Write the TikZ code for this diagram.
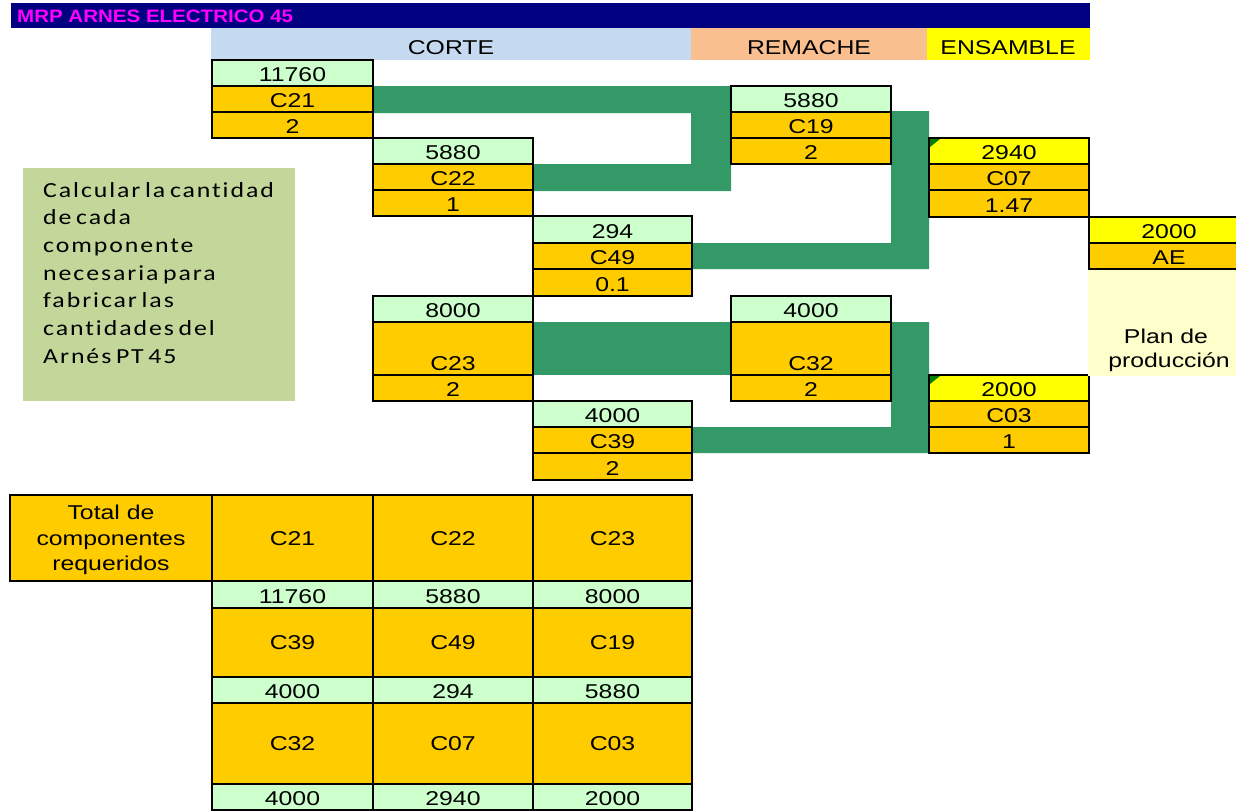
\documentclass[tikz,border=0pt]{standalone}
\usepackage{fontspec}
\setmainfont{Liberation Sans}[FakeStretch=1.24]
\newfontfamily\titlefont{Liberation Sans}[FakeStretch=1.14]
\newfontfamily\notefont{Carlito}[FakeStretch=1.2,LetterSpace=9,WordSpace=0.6,Ligatures={NoCommon}]
\definecolor{navy}{HTML}{000080}
\definecolor{mag}{HTML}{FF00FF}
\definecolor{lblue}{HTML}{C5D9F1}
\definecolor{peach}{HTML}{FABF8F}
\definecolor{yel}{HTML}{FFFF00}
\definecolor{lgreen}{HTML}{CCFFCC}
\definecolor{orng}{HTML}{FFCC00}
\definecolor{sea}{HTML}{339966}
\definecolor{notebg}{HTML}{C4D79B}
\definecolor{planbg}{HTML}{FFFFCC}
\definecolor{tri}{HTML}{008000}
\tikzset{
  cellline/.style={draw=black,line width=2.1pt},
  txt/.style={anchor=base,inner sep=0pt,font=\fontsize{20}{23}\selectfont},
  notetxt/.style={anchor=base west,inner sep=0pt,font=\notefont\fontsize{21.5}{24}\selectfont},
  link/.style={fill=sea,draw=none},
}
% name, x1, y1, x2, y2, fill, text  (text near bottom)
\newcommand\cel[7]{%
  \draw[cellline,fill=#6] (#2,#3) rectangle (#4,#5);
  \node[txt] (#1) at ({(#2+#4)/2},{#5-5}) {#7};}
% centred text
\newcommand\celc[7]{%
  \draw[cellline,fill=#6] (#2,#3) rectangle (#4,#5);
  \node[txt] (#1) at ({(#2+#4)/2},{(#3+#5)/2+7}) {#7};}
\begin{document}
\begin{tikzpicture}[x=1pt,y=-1pt]
\useasboundingbox (0,0) rectangle (1236,811);
\clip (0,0) rectangle (1236,811);
\fill[white] (0,0) rectangle (1236,811);
% title bar
\fill[navy] (11,3) rectangle (1090,28);
\node[anchor=base west,inner sep=0pt,text=mag,font=\titlefont\bfseries\fontsize{18}{20}\selectfont] (title) at (17,23) {MRP ARNES ELECTRICO 45};
% header
\fill[lblue] (211,28) rectangle (691,60);
\fill[peach] (691,28) rectangle (927,60);
\fill[yel] (927,28) rectangle (1090,60);
\node[txt] (corte) at (451,54) {CORTE};
\node[txt] (remache) at (809,54) {REMACHE};
\node[txt] (ensamble) at (1008,54) {ENSAMBLE};
% connectors
\fill[link] (373,86) -- (731,86) -- (731,191) -- (533,191) -- (533,164) -- (691,164) -- (691,113) -- (373,113) -- cycle;
\fill[link] (891,111) -- (929,111) -- (929,269) -- (692,269) -- (692,243) -- (891,243) -- cycle;
\fill[link] (533,322) -- (731,322) -- (731,375) -- (533,375) -- cycle;
\fill[link] (891,322) -- (929,322) -- (929,453) -- (692,453) -- (692,427) -- (891,427) -- cycle;
% C21
\cel{a1}{212}{60}{373}{86}{lgreen}{11760}
\cel{a2}{212}{86}{373}{112}{orng}{C21}
\cel{a3}{212}{112}{373}{138}{orng}{2}
% C22
\cel{b1}{373}{138}{533}{164}{lgreen}{5880}
\cel{b2}{373}{164}{533}{190}{orng}{C22}
\cel{b3}{373}{190}{533}{216}{orng}{1}
% C49
\cel{c1}{533}{216}{692}{243}{lgreen}{294}
\cel{c2}{533}{243}{692}{269}{orng}{C49}
\cel{c3}{533}{269}{692}{296}{orng}{0.1}
% C23
\cel{d1}{373}{296}{533}{322}{lgreen}{8000}
\cel{d2}{373}{322}{533}{375}{orng}{C23}
\cel{d3}{373}{375}{533}{401}{orng}{2}
% C39
\cel{e1}{533}{401}{692}{427}{lgreen}{4000}
\cel{e2}{533}{427}{692}{453}{orng}{C39}
\cel{e3}{533}{453}{692}{480}{orng}{2}
% C19
\cel{f1}{731}{86}{891}{112}{lgreen}{5880}
\cel{f2}{731}{112}{891}{138}{orng}{C19}
\cel{f3}{731}{138}{891}{164}{orng}{2}
% C32
\cel{g1}{731}{296}{891}{322}{lgreen}{4000}
\cel{g2}{731}{322}{891}{375}{orng}{C32}
\cel{g3}{731}{375}{891}{401}{orng}{2}
% C07
\cel{h1}{929}{138}{1089}{164}{yel}{2940}
\cel{h2}{929}{164}{1089}{190}{orng}{C07}
\cel{h3}{929}{190}{1089}{217}{orng}{1.47}
\fill[tri] (930,139) -- (940,139) -- (930,147) -- cycle;
% AE
\cel{i1}{1089}{217}{1249}{243}{yel}{2000}
\cel{i2}{1089}{243}{1249}{269}{orng}{AE}
% C03
\cel{j1}{929}{375}{1089}{401}{yel}{2000}
\cel{j2}{929}{401}{1089}{427}{orng}{C03}
\cel{j3}{929}{427}{1089}{453}{orng}{1}
\fill[tri] (930,376) -- (940,376) -- (930,384) -- cycle;
% plan de produccion
\fill[planbg] (1088,270) rectangle (1236,376);
\node[txt] (plan1) at (1166,343) {Plan de};
\node[txt] (plan2) at (1169,367) {producción};
% note box
\fill[notebg] (23,168) rectangle (295,401);
\node[notetxt] (n1) at (43,197) {Calcular la cantidad};
\node[notetxt] (n2) at (43,224.7) {de cada};
\node[notetxt] (n3) at (43,252.4) {componente};
\node[notetxt] (n4) at (43,280.1) {necesaria para};
\node[notetxt] (n5) at (43,307.8) {fabricar las};
\node[notetxt] (n6) at (43,335.5) {cantidades del};
\node[notetxt] (n7) at (43,363.2) {Arnés PT 45};
% bottom table
\draw[cellline,fill=orng] (10,495) rectangle (212,581);
\node[txt] (t1) at (111,519) {Total de};
\node[txt] (t2) at (111,545) {componentes};
\node[txt] (t3) at (111,570) {requeridos};
\celc{r1a}{212}{495}{373}{581}{orng}{C21}
\celc{r1b}{373}{495}{533}{581}{orng}{C22}
\celc{r1c}{533}{495}{692}{581}{orng}{C23}
\cel{r2a}{212}{581}{373}{608}{lgreen}{11760}
\cel{r2b}{373}{581}{533}{608}{lgreen}{5880}
\cel{r2c}{533}{581}{692}{608}{lgreen}{8000}
\celc{r3a}{212}{608}{373}{677}{orng}{C39}
\celc{r3b}{373}{608}{533}{677}{orng}{C49}
\celc{r3c}{533}{608}{692}{677}{orng}{C19}
\cel{r4a}{212}{677}{373}{703}{lgreen}{4000}
\cel{r4b}{373}{677}{533}{703}{lgreen}{294}
\cel{r4c}{533}{677}{692}{703}{lgreen}{5880}
\celc{r5a}{212}{703}{373}{784}{orng}{C32}
\celc{r5b}{373}{703}{533}{784}{orng}{C07}
\celc{r5c}{533}{703}{692}{784}{orng}{C03}
\cel{r6a}{212}{784}{373}{810}{lgreen}{4000}
\cel{r6b}{373}{784}{533}{810}{lgreen}{2940}
\cel{r6c}{533}{784}{692}{810}{lgreen}{2000}
\end{tikzpicture}
\end{document}
